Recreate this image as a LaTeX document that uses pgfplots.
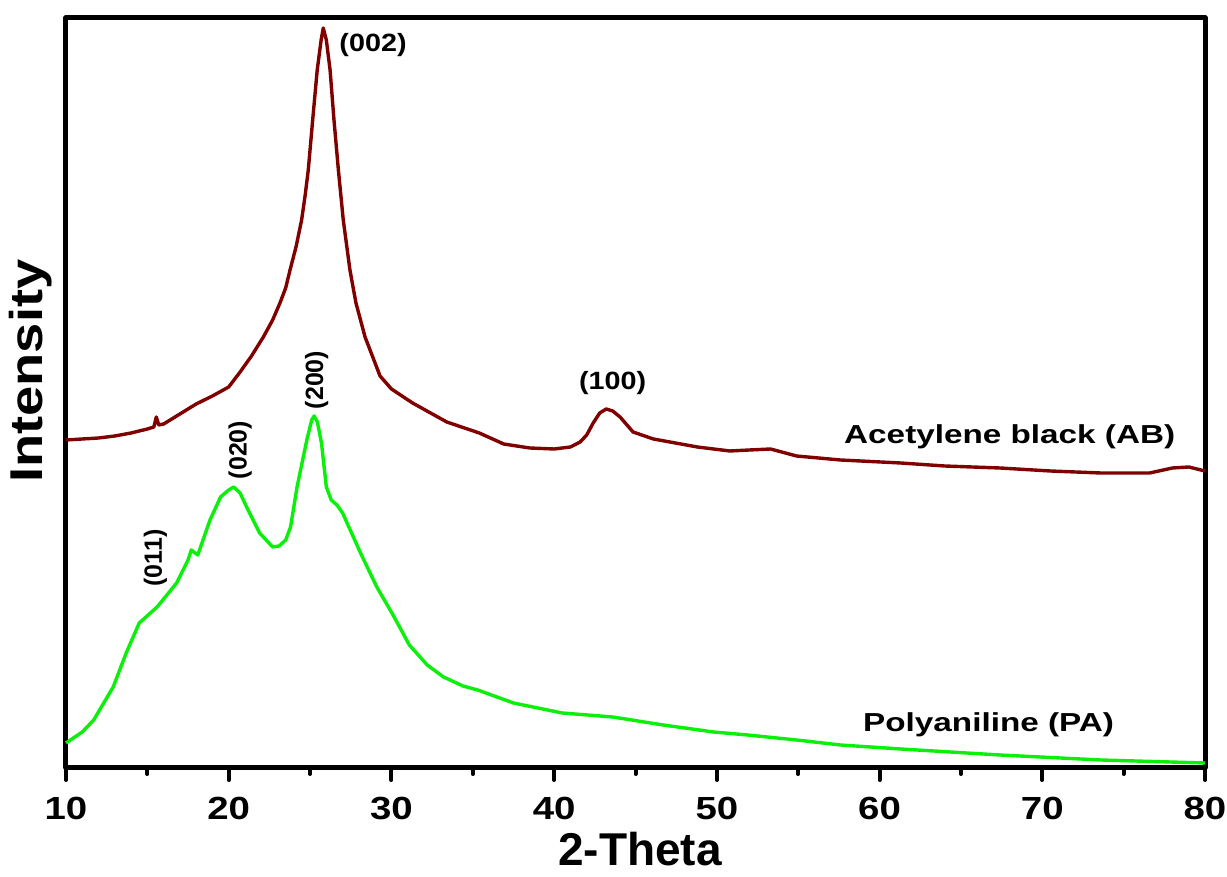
\documentclass[border=0pt]{standalone}
\usepackage{fontspec}
\setmainfont{Liberation Sans}
\usepackage{graphicx}
\usepackage{pgfplots}
\pgfplotsset{compat=1.18}
\usetikzlibrary{calc}
\definecolor{abred}{RGB}{128,0,0}
\definecolor{pagreen}{RGB}{10,240,10}
\newcommand{\wide}[2]{\scalebox{#1}[1]{#2}}
\begin{document}
\begin{tikzpicture}
\begin{axis}[
  scale only axis, width=569.5pt, height=375pt,
  xmin=10, xmax=80, ymin=0, ymax=750,
  xtick={10,20,...,80}, minor x tick num=1,
  xticklabels={\wide{1.2}{10},\wide{1.2}{20},\wide{1.2}{30},\wide{1.2}{40},
    \wide{1.2}{50},\wide{1.2}{60},\wide{1.2}{70},\wide{1.2}{80}},
  ytick=\empty,
  tick pos=left, tick align=outside,
  major tick length=6pt, minor tick length=3pt,
  every tick/.style={black, line width=2pt, line cap=round},
  axis line style={line width=2.5pt, line join=round},
  xlabel={2-Theta}, ylabel={\wide{1.18}{Intensity}},
  label style={font=\bfseries\fontsize{23}{26}\selectfont},
  xlabel style={at={(axis description cs:0.504,-0.108)}, anchor=center},
  ylabel style={at={(axis description cs:-0.031,0.529)}, anchor=center},
  xticklabel style={font=\bfseries\fontsize{16}{18}\selectfont, yshift=-5pt},
  clip=false,
]
\addplot[abred, line width=1.7pt, line join=round] coordinates {
  (10,328) (11,329) (12,330) (13,332) (14,335) (15,339) (15.4,341)
  (15.55,351) (15.7,343) (16,344) (17,354) (18,364) (19,372) (20,381)
  (20.7,396) (21.4,412) (22.13,431) (22.7,448) (23.15,465) (23.5,480)
  (23.77,498) (24.15,522) (24.48,548) (24.7,573) (24.89,598) (25.16,648)
  (25.44,698) (25.68,728) (25.81,740) (26.0,728) (26.23,698) (26.47,648)
  (26.74,598) (27.04,548) (27.45,498) (27.82,465) (28.38,431) (29.3,392)
  (30,379) (31.3,365) (33.4,346) (35.4,335) (36.9,324) (38.5,320) (40,319)
  (41,321) (41.6,326) (42.0,333) (42.4,345) (42.8,355) (43.2,359)
  (43.6,357) (44.05,351) (44.85,336) (46.1,329) (48.8,321) (50.8,317)
  (52,318) (53.3,319) (54.9,312) (57.6,308) (61.3,305) (64,302)
  (67.4,300) (70.5,297) (73.6,295) (76.6,295) (78,300) (79,301) (80,297)
};
\addplot[pagreen, line width=1.7pt, line join=round] coordinates {
  (10,25) (11,36) (11.7,48) (12.9,81) (13.7,115) (14.5,145) (15.6,161)
  (16.8,185) (17.5,208) (17.7,218) (18.1,213) (18.85,248) (19.5,271)
  (20.0,278) (20.3,281) (20.7,275) (21.1,261) (21.9,235) (22.7,221)
  (23.1,222) (23.5,228) (23.8,241) (24.2,281) (24.8,328) (25.1,348)
  (25.25,352) (25.45,346) (25.7,325) (26.0,281) (26.3,268) (26.65,263)
  (27.0,255) (28.1,215) (29.1,181) (30.1,153) (31.1,123) (32.2,103)
  (33.2,91) (34.4,82) (35.3,78) (37.5,65) (40.5,55) (43.6,51) (46.7,43)
  (49.8,36) (51.9,33) (54.9,28) (57.6,23) (61.3,19) (67.4,13) (73.6,8)
  (80,5)
};
\node[font=\bfseries\fontsize{12.5}{14}\selectfont] at (axis cs:28.87,723) {\wide{1.15}{(002)}};
\node[font=\bfseries\fontsize{12.5}{14}\selectfont] at (axis cs:43.6,385) {\wide{1.15}{(100)}};
\node[font=\bfseries\fontsize{12.5}{14}\selectfont, rotate=90] at (axis cs:25.4,388) {(200)};
\node[font=\bfseries\fontsize{12.5}{14}\selectfont, rotate=90] at (axis cs:20.7,318) {(020)};
\node[font=\bfseries\fontsize{12.5}{14}\selectfont, rotate=90] at (axis cs:15.5,210) {(011)};
\node[font=\bfseries\fontsize{13}{15}\selectfont] at (axis cs:68.0,331) {\wide{1.28}{Acetylene black (AB)}};
\node[font=\bfseries\fontsize{13}{15}\selectfont] at (axis cs:66.7,43) {\wide{1.28}{Polyaniline (PA)}};
\end{axis}
\pgfresetboundingbox
\path ($(current axis.south west)+(-33pt,-54.5pt)$) rectangle ($(current axis.north east)+(11pt,9pt)$);
\end{tikzpicture}
\end{document}
